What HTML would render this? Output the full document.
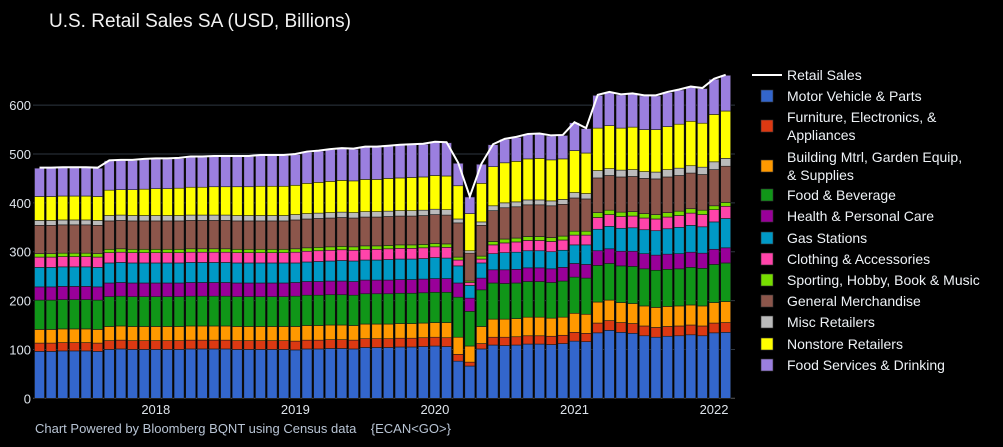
<!DOCTYPE html>
<html><head><meta charset="utf-8">
<style>
html,body{margin:0;padding:0;background:#000;}
svg{display:block;font-family:"Liberation Sans","DejaVu Sans",sans-serif;}
</style></head>
<body>
<svg id="chart" width="1003" height="447" viewBox="0 0 1003 447" xmlns="http://www.w3.org/2000/svg">
<rect width="1003" height="447" fill="#000"/>
<text x="49" y="27" fill="#f2f2f2" font-size="19">U.S. Retail Sales SA (USD, Billions)</text>
<g id="grid"></g>
<g id="yaxis"></g>
<g id="xaxis"></g>
<g id="bars"></g>
<g id="line"></g>
<g id="legend"></g>
<text x="35" y="433" fill="#b8c4d4" font-size="13" xml:space="preserve">Chart Powered by Bloomberg BQNT using Census data    {ECAN&lt;GO&gt;}</text>
</svg>
<script>
const seriesNames = ["Motor Vehicle & Parts","Furniture, Electronics, & Appliances","Building Mtrl, Garden Equip, & Supplies","Food & Beverage","Health & Personal Care","Gas Stations","Clothing & Accessories","Sporting, Hobby, Book & Music","General Merchandise","Misc Retailers","Nonstore Retailers","Food Services & Drinking"];
const yTicks = [0,100,200,300,400,500,600];
const xTickLabels = ["2018","2019","2020","2021","2022"];
const xTickIndex = [10,22,34,46,58];
const motor = [96,96,97,97,97,96,100,101,100,100,100,100,100,101,101,101,101,100,100,100,100,100,99,101,101,102,102,101,104,104,104,105,105,106,107,106,76,66,101,109,108,109,111,111,110,112,117,116,134,139,135,133,128,125,127,128,130,128,134,135];
const furniture = [17,17,17,17,17,17,18,18,18,18,18,18,18,18,18,18,18,18,18,18,18,18,18,18,18,18,18,18,18,18,18,18,18,18,18,18,14,8,11,16,17,17,17,17,17,17,18,17,20,20,20,20,20,20,20,20,20,20,20,20];
const building = [28,28,28,28,28,28,29,29,29,29,29,29,29,29,29,29,29,29,29,29,29,29,30,30,30,30,30,30,30,30,30,30,30,30,30,31,35,33,35,37,37,37,38,38,37,37,39,39,43,42,41,41,41,41,41,41,41,41,42,43];
const food = [60,60,60,60,60,60,61,61,61,61,61,61,61,61,61,61,61,61,61,61,61,61,62,62,62,62,62,62,62,62,62,62,62,62,62,62,82,71,75,74,73,73,73,73,73,74,74,74,75,75,75,76,76,76,76,76,77,77,78,79];
const health = [27,27,27,27,27,27,28,28,28,28,28,28,28,28,28,28,28,28,28,28,28,28,28,28,28,28,28,28,28,28,28,28,28,28,28,28,29,27,24,27,28,28,28,28,28,28,28,28,30,30,30,31,31,31,31,31,31,31,31,31];
const gas = [40,40,40,40,40,40,41,41,41,41,41,41,41,41,41,41,41,41,41,41,41,41,40,40,41,41,42,42,41,41,42,42,42,42,43,42,35,26,31,33,35,35,35,35,35,35,38,40,44,46,47,48,49,50,52,54,55,54,56,60];
const clothing = [21,21,21,21,21,21,21,21,21,21,21,21,21,21,21,21,21,21,21,21,21,21,22,22,22,22,22,22,22,22,22,22,22,22,22,22,12,6,8,18,20,21,21,21,21,21,20,20,24,24,24,24,24,24,24,24,25,25,25,25];
const sporting = [7,7,7,7,7,7,7,7,7,7,7,7,7,7,7,7,7,7,7,7,7,7,7,7,7,7,7,7,7,7,7,7,7,7,7,7,6,3,6,7,8,8,8,8,8,8,8,8,10,9,9,9,9,9,9,9,9,9,8,8];
const general = [58,58,58,58,58,58,58,58,58,58,58,58,58,58,58,58,58,58,58,58,58,58,59,59,59,59,59,59,59,59,59,59,59,59,59,59,70,57,63,63,64,64,65,65,65,65,68,66,71,71,72,72,72,73,73,73,73,73,74,74];
const misc = [10,10,10,10,10,10,11,11,11,11,11,11,11,11,11,11,11,11,11,11,11,11,11,11,11,11,11,11,11,11,11,11,11,11,11,11,8,5,7,10,10,10,10,10,10,10,11,11,15,14,14,14,14,14,15,15,15,15,16,16];
const nonstore = [49,49,49,49,49,49,52,52,53,54,55,55,56,57,57,58,58,59,59,60,60,60,60,62,63,64,65,65,66,66,67,67,68,68,69,69,68,76,79,80,82,83,84,85,84,83,86,83,87,88,86,87,86,87,88,90,91,90,97,97];
const foodServices = [58,58,58,58,58,58,60,60,60,61,61,61,61,62,62,62,62,62,62,63,63,63,63,64,64,65,65,65,66,66,66,67,67,67,68,68,46,34,39,45,48,49,50,50,49,48,57,50,67,68,68,68,69,69,70,70,70,71,72,73];

const allSeries = [motor,furniture,building,food,health,gas,clothing,sporting,general,misc,nonstore,foodServices];
const colors = ["#3366cc","#dc3912","#ff9900","#109618","#990099","#0099c6","#ff44aa","#77dd00","#8c564b","#bbbbbb","#ffff00","#9b7fdf"];
const slugs = ["motor-vehicle","furniture-electronics","building-materials","food-beverage","health-personal-care","gas-stations","clothing","sporting-hobby","general-merchandise","misc-retailers","nonstore-retailers","food-services"];

const NS="http://www.w3.org/2000/svg";
const y0=398.3, yk=0.4886, x0=39.5, pitch=11.63, bw=10;
function yScale(v){return y0 - v*yk;}
function xScale(i){return x0 + pitch*i;}
function mk(tag,attrs,parent){const e=document.createElementNS(NS,tag);for(const k in attrs)e.setAttribute(k,attrs[k]);parent.appendChild(e);return e;}

const grid=document.getElementById('grid'), yax=document.getElementById('yaxis'), xax=document.getElementById('xaxis');
yTicks.forEach(t=>{
  const g=mk('line',{x1:33,x2:735,y1:yScale(t),y2:yScale(t),stroke:t===0?'#555':'#2e3640','stroke-width':1},grid);
  
  
  const lb=mk('text',{x:31,y:yScale(t)+5,'text-anchor':'end',fill:'#dde3ea','font-size':13},yax);
  lb.textContent=t;
  
  
});
xTickLabels.forEach((lab,k)=>{
  const t=mk('text',{x:xScale(xTickIndex[k]),y:414,'text-anchor':'middle',fill:'#dde3ea','font-size':13},xax);
  t.textContent=lab;
  
  
});

const bars=document.getElementById('bars');
const n=motor.length;
const totals=[];
for(let i=0;i<n;i++){
  let cum=0;
  for(let s=0;s<allSeries.length;s++){
    const v=allSeries[s][i];
    const r=mk('rect',{x:xScale(i)-bw/2,y:yScale(cum+v),width:bw,height:v*yk,fill:colors[s],stroke:'#1a1a1a','stroke-width':0.6},bars);
    
    
    cum+=v;
  }
  totals.push(cum);
}
const lineG=document.getElementById('line');
const pts=totals.map((v,i)=>xScale(i)+','+yScale(v+1)).join(' ');
const pl=mk('polyline',{points:pts,fill:'none',stroke:'#fff','stroke-width':2},lineG);



const leg=document.getElementById('legend');
const ll=mk('line',{x1:752,x2:782,y1:75,y2:75,stroke:'#fff','stroke-width':2},leg);


const lt=mk('text',{x:787,y:80,fill:'#eef2f6','font-size':14},leg);
lt.textContent='Retail Sales';


const legY=[96,126,166,195,216,238,259,280,301,322,344,365];
const legLines=[["Motor Vehicle & Parts"],["Furniture, Electronics, &","Appliances"],["Building Mtrl, Garden Equip,","& Supplies"],["Food & Beverage"],["Health & Personal Care"],["Gas Stations"],["Clothing & Accessories"],["Sporting, Hobby, Book & Music"],["General Merchandise"],["Misc Retailers"],["Nonstore Retailers"],["Food Services & Drinking"]];
legLines.forEach((lines,s)=>{
  const cy=legY[s];
  const sq=mk('rect',{x:761,y:cy-6,width:12,height:12,fill:colors[s],stroke:'#333','stroke-width':0.6},leg);
  
  
  const startY = lines.length===1 ? cy+5 : cy-4;
  lines.forEach((txt,j)=>{
    const t=mk('text',{x:787,y:startY+j*18,fill:'#eef2f6','font-size':14},leg);
    t.textContent=txt;
    
    
  });
});
</script>
</body></html>
